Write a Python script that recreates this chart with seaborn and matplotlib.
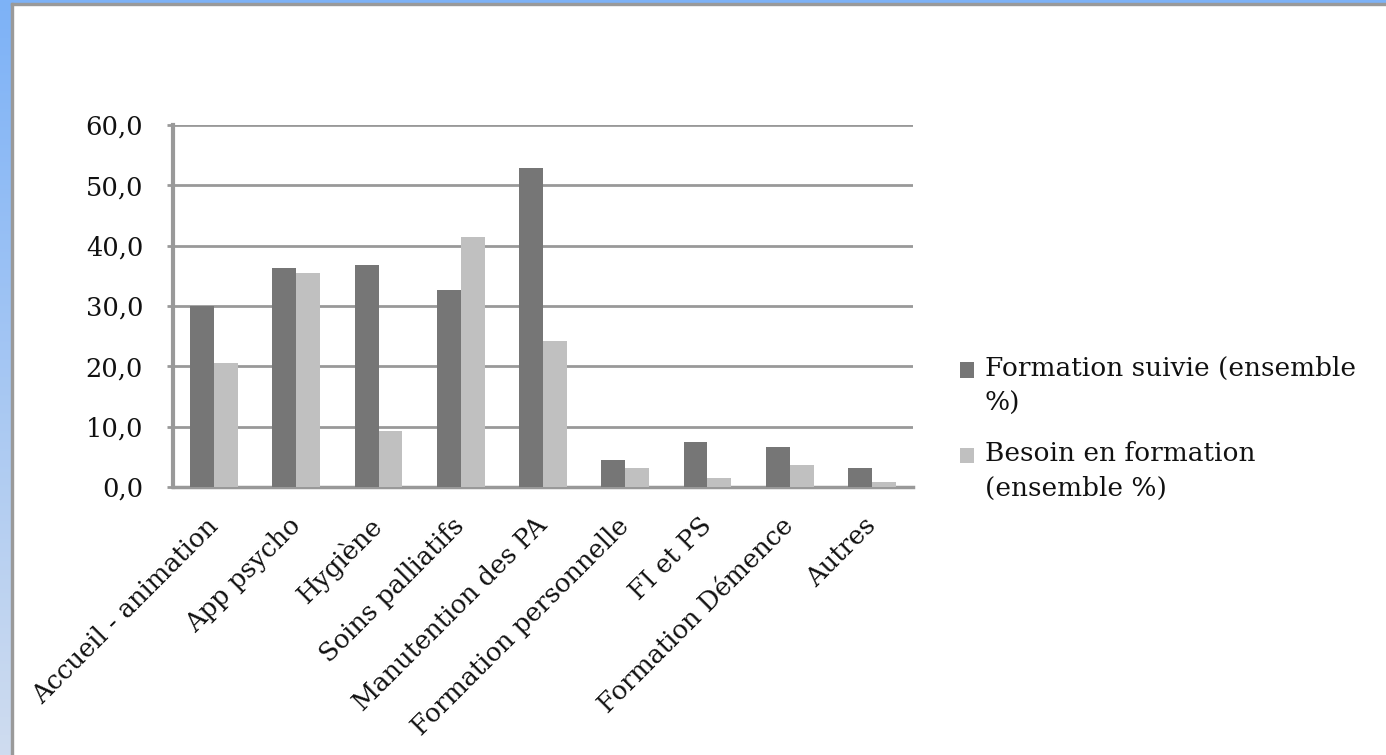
import numpy as np
import pandas as pd
import matplotlib
matplotlib.use("Agg")
import matplotlib.pyplot as plt
import seaborn as sns
from matplotlib.patches import Rectangle, Patch
from matplotlib.legend_handler import HandlerPatch
from matplotlib.colors import LinearSegmentedColormap

categories = ["Accueil - animation", "App psycho", "Hygiène", "Soins palliatifs",
              "Manutention des PA", "Formation personnelle", "FI et PS",
              "Formation Démence", "Autres"]
suivie = [30.0, 36.3, 36.8, 32.7, 52.9, 4.4, 7.4, 6.6, 3.1]
besoin = [20.6, 35.5, 9.3, 41.5, 24.2, 3.1, 1.5, 3.6, 0.8]
series_names = ["Formation suivie (ensemble\n%)", "Besoin en formation\n(ensemble %)"]
yticks = [0, 10, 20, 30, 40, 50, 60]
ytick_labels = ["0,0", "10,0", "20,0", "30,0", "40,0", "50,0", "60,0"]
colors = ["#767676", "#c0c0c0"]

df = pd.DataFrame({
    "cat": categories * 2,
    "val": suivie + besoin,
    "serie": [series_names[0]] * len(categories) + [series_names[1]] * len(categories),
})

sns.set_theme(style="white")
plt.rcParams['font.family'] = ['DejaVu Serif']
FS = 18.5
LFS = 19

fig = plt.figure(figsize=(13.86, 7.55), dpi=100)
fig.patch.set_facecolor("white")

# slide frame decoration
grad = fig.add_axes([0, 0, 11 / 1386, 1])
g = np.linspace(0, 1, 256).reshape(-1, 1)
cmap = LinearSegmentedColormap.from_list("b", ["#7db2f7", "#cfdcef"])
grad.imshow(g, aspect="auto", cmap=cmap, extent=[0, 1, 0, 1], origin="upper")
grad.axis("off")
fig.add_artist(Rectangle((0, 1 - 3 / 755), 1, 3 / 755, transform=fig.transFigure,
                         color="#7db2f7", zorder=0))
fig.add_artist(Rectangle((11 / 1386, 0), 2 / 1386, 1 - 3 / 755, transform=fig.transFigure,
                         color="#9a9a9a", zorder=1))
fig.add_artist(Rectangle((11 / 1386, 1 - 5 / 755), 1, 2 / 755, transform=fig.transFigure,
                         color="#9a9a9a", zorder=1))

ax = fig.add_axes([173 / 1386, 1 - 487 / 755, 740 / 1386, 362 / 755])
sns.barplot(data=df, x="cat", y="val", hue="serie", palette=colors, ax=ax,
            width=0.58, saturation=1, legend=False, errorbar=None, zorder=3,
            linewidth=0, edgecolor="none")
ax.set_ylim(0, 60)
ax.set_xlim(-0.5, len(categories) - 0.5)
ax.set_yticks(yticks)
ax.set_yticklabels(ytick_labels, fontsize=FS, color="#111111")
ax.set_xticks(range(len(categories)))
ax.set_xticklabels(categories, rotation=45, ha="right", va="center",
                   rotation_mode="anchor", fontsize=FS, color="#111111")
ax.set_xlabel("")
ax.set_ylabel("")
ax.yaxis.grid(True, color="#999999", linewidth=2, zorder=0)
ax.set_axisbelow(True)
for s in ["top", "right"]:
    ax.spines[s].set_visible(False)
ax.spines["left"].set_color("#999999")
ax.spines["left"].set_linewidth(3)
ax.spines["bottom"].set_color("#999999")
ax.spines["bottom"].set_linewidth(2.5)
ax.tick_params(axis="y", length=4, width=2, color="#999999", pad=17.5, left=True)
ax.tick_params(axis="x", length=0, pad=25)


def top_square(legend, orig_handle, xdescent, ydescent, width, height, fontsize):
    return Rectangle((-xdescent, -ydescent + 0.62 * fontsize), width, height)


handles = [Patch(facecolor=c, edgecolor="none") for c in colors]
leg = fig.legend(handles, series_names, loc="upper left",
                 bbox_to_anchor=(949 / 1386, 1 - 345 / 755), frameon=False,
                 fontsize=LFS, handlelength=0.55, handleheight=0.55, handletextpad=0.4,
                 labelspacing=0.97, borderaxespad=0,
                 handler_map={Patch: HandlerPatch(patch_func=top_square)})
for t in leg.get_texts():
    t.set_linespacing(1.5)
    t.set_color("#111111")

fig.savefig("out.png", dpi=100)
